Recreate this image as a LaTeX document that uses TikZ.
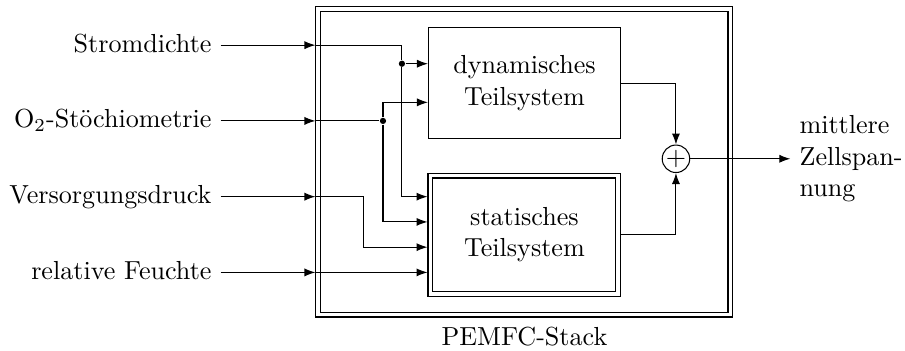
\documentclass[tikz,border=0pt]{standalone}
\usepackage{amsmath}
\usepackage{amssymb}
\usepackage{tikz}
\usetikzlibrary{arrows.meta}
\usetikzlibrary{calc}
\usetikzlibrary{positioning}

\begin{document}
\begin{tikzpicture}[>={Latex[length=4.2pt,width=3.1pt]},
	block/.style={draw,align=center,minimum width=2.585cm,minimum height=1.495cm},
	dblock/.style={draw,double distance=1.5pt,outer sep=1.15pt,align=center},
	input/.style={anchor=east,text height=1.5ex,text depth=0.25ex},
	junc/.style={circle,fill,inner sep=0pt,minimum size=2.4pt}]
	\useasboundingbox (-7.062,-1.555) rectangle (5.124,3.158);
\node[dblock,minimum width=5.548cm,minimum height=4.12cm] (stack) at (0,0.983) {};
\node[below=0pt of stack] (stacklabel) {PEMFC-Stack};
\node[block] (dyn) at (0,2.04) {dynamisches\\Teilsystem};
\node[dblock,minimum width=2.531cm,minimum height=1.589cm] (stat) at (0,0) {statisches\\Teilsystem};
\node[draw,circle,inner sep=0pt,minimum size=3.7mm] (sum) at (2.04,1.02) {$+$};
\node[anchor=west,align=left] (out) at (3.58,1.02) {mittlere\\Zellspan-\\nung};
	\node[input] (strom) at (-4.09,2.55) {Stromdichte};
	\node[input] (oxy) at (-4.09,1.53) {O$_2$-Stöchiometrie};
	\node[input] (druck) at (-4.09,0.51) {Versorgungsdruck};
	\node[input] (feucht) at (-4.09,-0.51) {relative Feuchte};
	\node[junc] (j1) at (-1.65,2.30) {};
	\node[junc] (j2) at (-1.905,1.53) {};
	\draw[->] (strom.east) -- (strom.east -| stack.west);
	\draw[->] (oxy.east) -- (oxy.east -| stack.west);
	\draw[->] (druck.east) -- (druck.east -| stack.west);
	\draw[->] (feucht.east) -- (feucht.east -| stack.west);
	\draw (strom.east -| stack.west) -| (j1);
	\draw[->] (j1) -- (j1 -| dyn.west);
	\draw[->] (j1) |- ($(stat.west)+(0,0.51)$);
	\draw (oxy.east -| stack.west) -- (j2);
	\draw[->] (j2) |- ($(dyn.west)+(0,-0.26)$);
	\draw[->] (j2) |- ($(stat.west)+(0,0.17)$);
	\draw[->] (druck.east -| stack.west) -- ++(0.65,0) |- ($(stat.west)+(0,-0.17)$);
	\draw[->] (feucht.east -| stack.west) -- ($(stat.west)+(0,-0.51)$);
	\draw[->] (dyn.east) -| (sum.north);
	\draw[->] (stat.east) -| (sum.south);
	\draw[->] (sum.east) -- (out.west);
\end{tikzpicture}
\end{document}
